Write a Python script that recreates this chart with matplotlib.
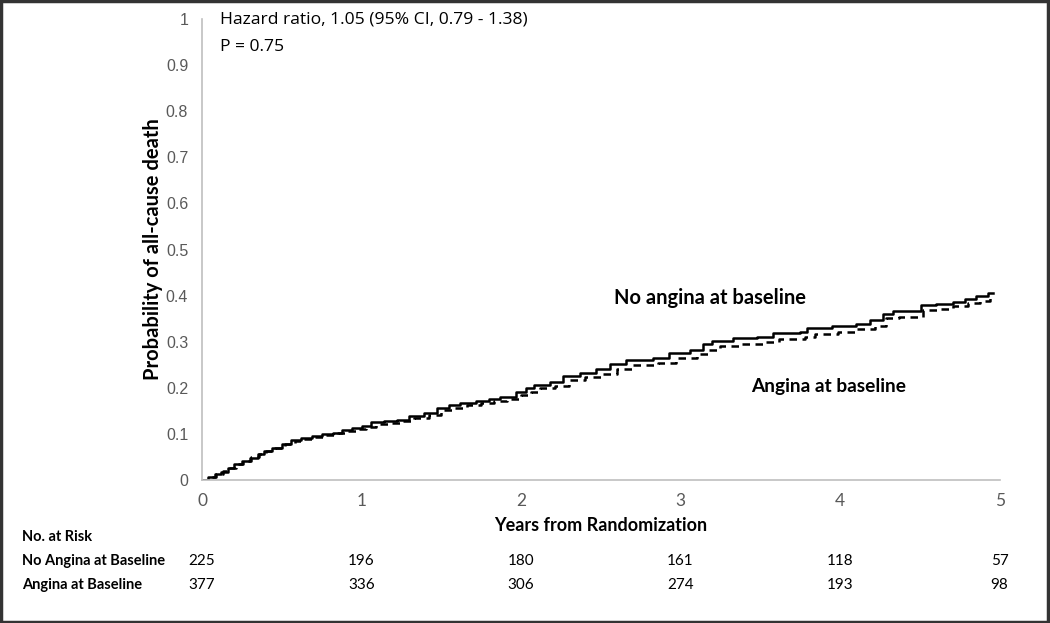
import numpy as np
import matplotlib
matplotlib.use("Agg")
import matplotlib.pyplot as plt
from matplotlib.patches import Rectangle

# Kaplan-Meier style cumulative incidence
no_angina_t = [0, 0.04, 0.08, 0.12, 0.16, 0.20, 0.25, 0.30, 0.35, 0.39, 0.44, 0.50,
               0.56, 0.62, 0.69, 0.75, 0.82, 0.88, 0.94, 1.00, 1.06, 1.14, 1.22, 1.30,
               1.39, 1.47, 1.55, 1.62, 1.72, 1.80, 1.87, 1.97, 2.03, 2.08, 2.18, 2.26,
               2.37, 2.47, 2.56, 2.66, 2.83, 2.93, 3.06, 3.14, 3.20, 3.33, 3.48, 3.58,
               3.75, 3.79, 3.95, 4.10, 4.19, 4.27, 4.33, 4.51, 4.60, 4.71, 4.78, 4.85,
               4.93, 4.96]
no_angina_p = [0, 0.006, 0.012, 0.018, 0.026, 0.034, 0.042, 0.048, 0.056, 0.064, 0.070, 0.078,
               0.087, 0.092, 0.095, 0.099, 0.103, 0.108, 0.112, 0.118, 0.125, 0.127, 0.130, 0.139,
               0.146, 0.157, 0.162, 0.168, 0.171, 0.176, 0.181, 0.192, 0.199, 0.206, 0.213, 0.226,
               0.233, 0.240, 0.251, 0.260, 0.264, 0.275, 0.283, 0.295, 0.302, 0.307, 0.310, 0.318,
               0.322, 0.329, 0.334, 0.338, 0.347, 0.360, 0.367, 0.380, 0.382, 0.387, 0.392, 0.399,
               0.405, 0.405]

angina_t = [0, 0.04, 0.09, 0.13, 0.17, 0.21, 0.26, 0.31, 0.36, 0.40, 0.46, 0.52,
            0.58, 0.64, 0.71, 0.78, 0.85, 0.91, 0.97, 1.03, 1.09, 1.17, 1.25, 1.33,
            1.42, 1.50, 1.58, 1.66, 1.75, 1.83, 1.91, 2.00, 2.06, 2.12, 2.21, 2.30,
            2.40, 2.50, 2.60, 2.70, 2.86, 2.97, 3.10, 3.18, 3.25, 3.38, 3.52, 3.62,
            3.78, 3.84, 3.99, 4.10, 4.22, 4.29, 4.37, 4.52, 4.63, 4.71, 4.80, 4.88,
            4.94, 4.97]
angina_p = [0, 0.006, 0.013, 0.019, 0.027, 0.034, 0.042, 0.049, 0.056, 0.063, 0.070, 0.078,
            0.085, 0.090, 0.093, 0.097, 0.101, 0.106, 0.110, 0.116, 0.121, 0.124, 0.127, 0.134,
            0.141, 0.151, 0.157, 0.162, 0.166, 0.171, 0.176, 0.185, 0.192, 0.199, 0.205, 0.216,
            0.224, 0.231, 0.241, 0.250, 0.254, 0.265, 0.273, 0.283, 0.291, 0.296, 0.299, 0.306,
            0.311, 0.317, 0.322, 0.327, 0.335, 0.351, 0.354, 0.369, 0.372, 0.377, 0.383, 0.389,
            0.394, 0.394]

risk_years = [0, 1, 2, 3, 4, 5]
risk_no_angina = [225, 196, 180, 161, 118, 57]
risk_angina = [377, 336, 306, 274, 193, 98]

bold_font = ['Lato', 'DejaVu Sans']
plain_font = ['Open Sans', 'DejaVu Sans']
gray = '#595959'

fig = plt.figure(figsize=(10.5, 6.23), dpi=100)
ax = fig.add_axes([0.1924, 0.2295, 0.7596, 0.74])

ax.step(no_angina_t, no_angina_p, where='post', color='black', lw=1.8)
ax.step(angina_t, angina_p, where='post', color='black', lw=1.8, linestyle=(0, (3, 2.2)))

ax.set_xlim(0, 5)
ax.set_ylim(0, 1)
ax.set_yticks(np.arange(0, 1.01, 0.1))
ax.set_yticklabels(['0'] + ['%.1f' % v for v in np.arange(0.1, 0.95, 0.1)] + ['1'],
                   family='Liberation Sans', fontsize=11.5, color=gray)
ax.set_xticks(risk_years)
ax.set_xticklabels([str(v) for v in risk_years], family=bold_font, fontsize=12.5, color=gray)
ax.tick_params(axis='y', length=0, pad=10)
ax.tick_params(axis='x', length=0, pad=9)
for s in ['top', 'right']:
    ax.spines[s].set_visible(False)
for s in ['left', 'bottom']:
    ax.spines[s].set_color('#bfbfbf')
    ax.spines[s].set_linewidth(1.2)

ax.set_xlabel('Years from Randomization', family=bold_font, fontweight='bold', fontsize=13, labelpad=6)
ax.set_ylabel('Probability of all-cause death', family=bold_font, fontweight='bold', fontsize=14.5, labelpad=2)

ax.text(0.11, 0.999, 'Hazard ratio, 1.05 (95% CI, 0.79 - 1.38)', family=plain_font,
        fontsize=12.6, va='center')
ax.text(0.11, 0.94, 'P = 0.75', family=plain_font, fontsize=12.6, va='center')
ax.text(2.58, 0.395, 'No angina at baseline', family=bold_font, fontweight='bold', fontsize=14.5, va='center')
ax.text(3.44, 0.203, 'Angina at baseline', family=bold_font, fontweight='bold', fontsize=13.8, va='center')

# number at risk table
trans = ax.get_xaxis_transform()
fig.text(22 / 1050, 1 - 537 / 623, 'No. at Risk', family=bold_font, fontweight='bold', fontsize=10.5, va='center')
fig.text(22 / 1050, 1 - 561 / 623, 'No Angina at Baseline', family=bold_font, fontweight='bold', fontsize=10.5, va='center')
fig.text(22 / 1050, 1 - 585 / 623, 'Angina at Baseline', family=bold_font, fontweight='bold', fontsize=10.5, va='center')
y1 = (1 - 561 / 623 - 0.2295) / 0.74
y2 = (1 - 585 / 623 - 0.2295) / 0.74
for yr, n1, n2 in zip(risk_years, risk_no_angina, risk_angina):
    ax.text(yr, y1, str(n1), transform=trans, ha='center', va='center', family=bold_font, fontsize=11, clip_on=False)
    ax.text(yr, y2, str(n2), transform=trans, ha='center', va='center', family=bold_font, fontsize=11, clip_on=False)

fig.patches.append(Rectangle((0.001, 0.002), 0.997, 0.996, transform=fig.transFigure,
                             fill=False, edgecolor='#333333', linewidth=2.5))

fig.savefig('out.png', dpi=100)
